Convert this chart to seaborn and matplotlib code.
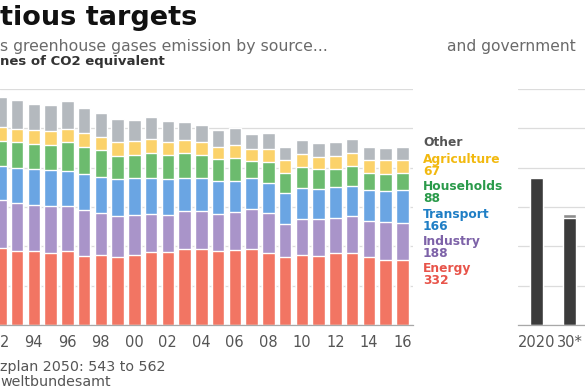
"""
Emissions by source (stacked bars) and government targets, cropped view.
"""
import numpy as np
import pandas as pd
import matplotlib
matplotlib.use("Agg")
import matplotlib.pyplot as plt
import seaborn as sns

years = list(range(1992, 2017))
energy = [391, 378, 374, 366, 374, 352, 354, 344, 355, 369, 369, 386, 384, 374, 383,
          388, 366, 344, 354, 352, 366, 366, 345, 332, 332]
industry = [247, 240, 238, 240, 230, 235, 213, 209, 206, 196, 192, 196, 196, 192, 190,
            204, 201, 172, 187, 189, 179, 187, 185, 190, 188]
transport = [170, 179, 182, 180, 179, 182, 187, 187, 185, 184, 179, 167, 168, 165, 158,
             156, 156, 153, 156, 153, 158, 156, 158, 158, 166]
households = [128, 136, 128, 131, 145, 138, 136, 119, 119, 128, 124, 124, 116, 111, 116,
              88, 107, 102, 105, 97, 92, 102, 85, 90, 88]
agriculture = [71, 66, 68, 70, 68, 68, 68, 71, 70, 68, 68, 66, 66, 65, 66,
               60, 66, 66, 65, 63, 65, 65, 65, 68, 67]
other = [150, 146, 134, 134, 143, 129, 119, 116, 107, 114, 104, 95, 88, 85, 87,
         77, 78, 70, 73, 70, 68, 68, 66, 63, 63]

target_labels = ["2020", "30*"]
target_low = [750, 543]
target_high = [750, 562]

sources = ["Energy", "Industry", "Transport", "Households", "Agriculture", "Other"]
bar_colors = ["#f27563", "#a994c9", "#6aa5e3", "#6cbb6e", "#fbd26a", "#b4b9be"]
text_colors = ["#e8544a", "#7d62a8", "#1f7ec5", "#2a9a4a", "#f2b90f", "#555555"]

sns.set_theme(style="white")
plt.rcParams["font.family"] = ["DejaVu Sans"]

df = pd.DataFrame({"year": [str(y) for y in years], "Energy": energy, "Industry": industry,
                   "Transport": transport, "Households": households,
                   "Agriculture": agriculture, "Other": other})
cum = df[sources].cumsum(axis=1)

fig = plt.figure(figsize=(5.85, 3.9), dpi=100)
W, H = 585, 390

# left panel: stacked emissions, drawn top layer first
ax = fig.add_axes([0, (H - 325) / H, 413 / W, 236 / H])
for src, col in reversed(list(zip(sources, bar_colors))):
    sns.barplot(x=df["year"], y=cum[src], color=col, width=0.75, saturation=1,
                errorbar=None, ax=ax)

ax.set_xlim(-0.02, 24.64)
ax.set_ylim(0, 1200)
ax.set_yticks([0, 200, 400, 600, 800, 1000, 1200])
ax.set_xticks(range(0, len(years), 2))
tick_txt = [f"{y % 100:02d}" for y in years[::2]]
tick_txt[0] = "2"  # "92" is cut by the left edge in the original
ax.set_xticklabels(tick_txt)
ax.get_xticklabels()[0].set_horizontalalignment("left")

# right panel: government targets
ax2 = fig.add_axes([518 / W, (H - 325) / H, 122 / W, 236 / H])
sns.barplot(x=target_labels, y=target_high, color="#8c8c8c", width=0.39, saturation=1,
            errorbar=None, ax=ax2)
sns.barplot(x=target_labels, y=target_low, color="#3b3b3b", width=0.39, saturation=1,
            errorbar=None, ax=ax2)
ax2.set_xlim(-0.55, 3.09)
ax2.set_ylim(0, 1200)
ax2.set_yticks([0, 200, 400, 600, 800, 1000, 1200])

for a in (ax, ax2):
    a.set_xlabel("")
    a.set_ylabel("")
    a.yaxis.grid(True, color="#dcdcdc", lw=0.9)
    a.xaxis.grid(False)
    a.set_axisbelow(True)
    for s in ("top", "left", "right"):
        a.spines[s].set_visible(False)
    a.spines["bottom"].set_color("#a8a8a8")
    a.spines["bottom"].set_linewidth(0.9)
    a.tick_params(axis="x", length=0, pad=7, labelsize=10.5, labelcolor="#555555")
    a.tick_params(axis="y", length=0, labelleft=False)

# header
fig.text(0, 1 - 18 / H, "tious targets", fontsize=19.5, fontweight="bold",
         color="#111111", va="center", ha="left")
fig.text(0, 1 - 47 / H, "s greenhouse gases emission by source...", fontsize=11.3,
         color="#6a6a6a", va="center", ha="left")
fig.text(447 / W, 1 - 47 / H, "and government", fontsize=11.2,
         color="#6a6a6a", va="center", ha="left")
fig.text(0, 1 - 62 / H, "nes of CO2 equivalent", fontsize=9.5, fontweight="bold",
         color="#333333", va="center", ha="left")

# labels at the right of the stacks (name + 2016 value)
label_y = {"Other": 142.7, "Agriculture": 160, "Households": 187,
           "Transport": 215, "Industry": 242, "Energy": 269}
last = df[sources].iloc[-1]
for src, col in zip(sources, text_colors):
    y = label_y[src]
    if src == "Other":
        fig.text(423 / W, 1 - y / H, src, fontsize=8.8, fontweight="bold",
                 color=col, va="center", ha="left")
    else:
        fig.text(423 / W, 1 - (y + 5.3) / H, f"{src}\n{last[src]}", fontsize=8.8,
                 fontweight="bold", color=col, va="center", ha="left",
                 linespacing=0.87)

# footer
fig.text(0, 1 - 367 / H, "zplan 2050: 543 to 562", fontsize=10.3, color="#555555",
         va="center", ha="left")
fig.text(0, 1 - 382 / H, "weltbundesamt", fontsize=10.3, color="#555555",
         va="center", ha="left")

fig.savefig("out.png", dpi=100)
